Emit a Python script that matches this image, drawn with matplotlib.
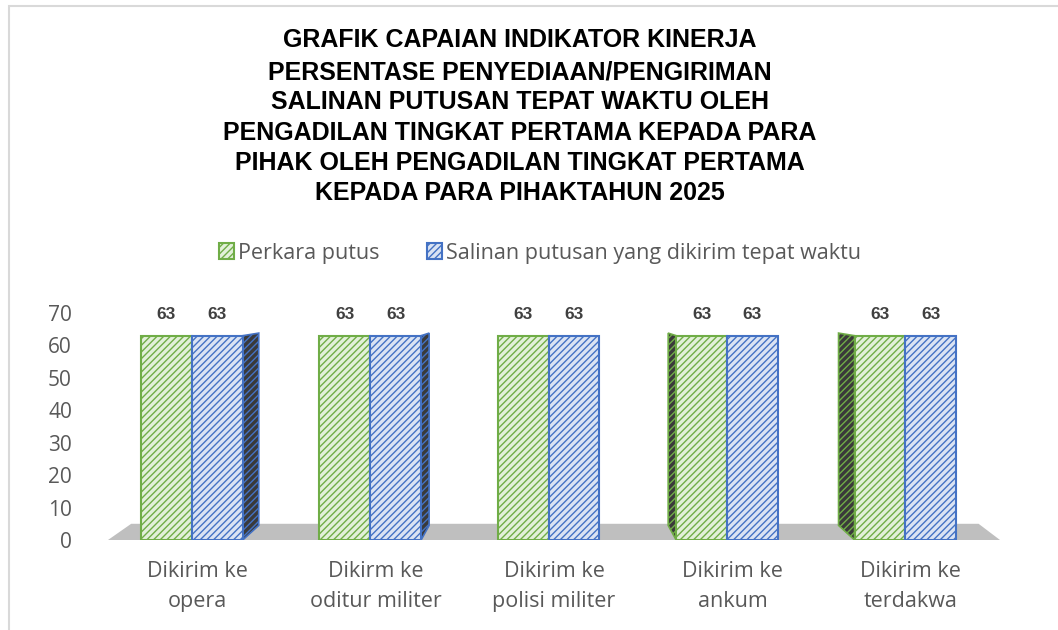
import matplotlib
matplotlib.use("Agg")
import matplotlib.pyplot as plt
from matplotlib.patches import Polygon, Rectangle
import numpy as np

categories = ["Dikirim ke\nopera", "Dikirm ke\noditur militer", "Dikirim ke\npolisi militer",
              "Dikirim ke\nankum", "Dikirim ke\nterdakwa"]
perkara_putus = [63, 63, 63, 63, 63]
salinan_tepat = [63, 63, 63, 63, 63]
series_names = ["Perkara putus", "Salinan putusan yang dikirim tepat waktu"]
title_lines = ["GRAFIK CAPAIAN INDIKATOR KINERJA",
               "PERSENTASE PENYEDIAAN/PENGIRIMAN",
               "SALINAN PUTUSAN TEPAT WAKTU OLEH",
               "PENGADILAN TINGKAT PERTAMA KEPADA PARA",
               "PIHAK OLEH PENGADILAN TINGKAT PERTAMA",
               "KEPADA PARA PIHAKTAHUN 2025"]
yticks = [0, 10, 20, 30, 40, 50, 60, 70]

GREEN = "#70AD47"
GREEN_FILL = "#E2F0D9"
BLUE = "#4472C4"
BLUE_FILL = "#DAE3F3"
GRAY_TXT = "#595959"
LBL_FONT = ["Open Sans", "DejaVu Sans"]

plt.rcParams["hatch.linewidth"] = 1.0

W, H = 1058, 630
fig = plt.figure(figsize=(W / 100, H / 100), dpi=100)
fig.patch.set_facecolor("white")

# chart area border (cropped at right/bottom)
fig.patches.append(Rectangle((9 / W, -0.05), 1.2, 1 - 6 / H + 0.05, transform=fig.transFigure,
                             fill=False, edgecolor="#D9D9D9", linewidth=1.5))

ax = fig.add_axes([108 / W, 1 - 540 / H, 892 / W, (540 - 313) / H])
ax.set_xlim(-0.5, len(categories) - 0.5)
ax.set_ylim(0, 70)
for s in ax.spines.values():
    s.set_visible(False)
ax.set_facecolor("none")

x = np.arange(len(categories))
bw = 0.285
shift = -0.03

# floor
floor = Polygon([(-0.5, 0), (4.5, 0), (4.38, 5), (-0.37, 5)], closed=True,
                facecolor="#BFBFBF", edgecolor="none", zorder=1, clip_on=False)
ax.add_patch(floor)

b1 = ax.bar(x + shift - bw / 2, perkara_putus, bw, facecolor=GREEN_FILL, edgecolor=GREEN,
            hatch="/////", linewidth=1.5, zorder=3, label=series_names[0])
b2 = ax.bar(x + shift + bw / 2, salinan_tepat, bw, facecolor=BLUE_FILL, edgecolor=BLUE,
            hatch="/////", linewidth=1.5, zorder=3, label=series_names[1])

# perspective side faces
mid = (len(categories) - 1) / 2
for i in range(len(categories)):
    d = 0.045 * (mid - x[i])
    if d > 0.005:
        xr = x[i] + shift + bw
        poly = Polygon([(xr, 0), (xr, salinan_tepat[i]), (xr + d, salinan_tepat[i] + 0.8),
                        (xr + d, 4.5)], closed=True, facecolor="#3A3A3A", edgecolor=BLUE,
                       hatch="/////", linewidth=1.2, zorder=2)
        ax.add_patch(poly)
    elif d < -0.005:
        xl = x[i] + shift - bw
        poly = Polygon([(xl, 0), (xl, perkara_putus[i]), (xl + d, perkara_putus[i] + 0.8),
                        (xl + d, 4.5)], closed=True, facecolor="#3A3A3A", edgecolor=GREEN,
                       hatch="/////", linewidth=1.2, zorder=2)
        ax.add_patch(poly)

for bars, vals in ((b1, perkara_putus), (b2, salinan_tepat)):
    for r, v in zip(bars, vals):
        ax.annotate(str(v), (r.get_x() + r.get_width() / 2, v), xytext=(0, 10),
                    textcoords="offset points", ha="center", va="bottom",
                    fontsize=12.5, fontweight="bold", color="#404040",
                    family=["Liberation Sans", "DejaVu Sans"])

ax.set_xticks(x)
ax.set_xticklabels(categories, fontsize=15.5, color=GRAY_TXT, family=LBL_FONT, linespacing=1.55)
ax.set_yticks(yticks)
ax.set_yticklabels([str(t) for t in yticks], fontsize=15, color=GRAY_TXT, family=LBL_FONT)
ax.tick_params(axis="both", length=0)
ax.tick_params(axis="y", pad=26)
ax.tick_params(axis="x", pad=15)

leg = fig.legend(handles=[b1, b2], labels=series_names, loc="center",
                 bbox_to_anchor=(540 / W, 1 - 253 / H), ncol=2, frameon=False,
                 prop={"family": LBL_FONT, "size": 15.5}, handlelength=0.7, handleheight=0.7,
                 handletextpad=0.2, columnspacing=2.2)
for t in leg.get_texts():
    t.set_color(GRAY_TXT)

ys = [40, 72, 102, 133, 163, 193]
for line, yy in zip(title_lines, ys):
    fig.text(520 / W, 1 - yy / H, line, ha="center", va="center", fontsize=18,
             fontweight="bold", color="black", family=["Liberation Sans", "DejaVu Sans"])

fig.savefig("out.png", dpi=100)
